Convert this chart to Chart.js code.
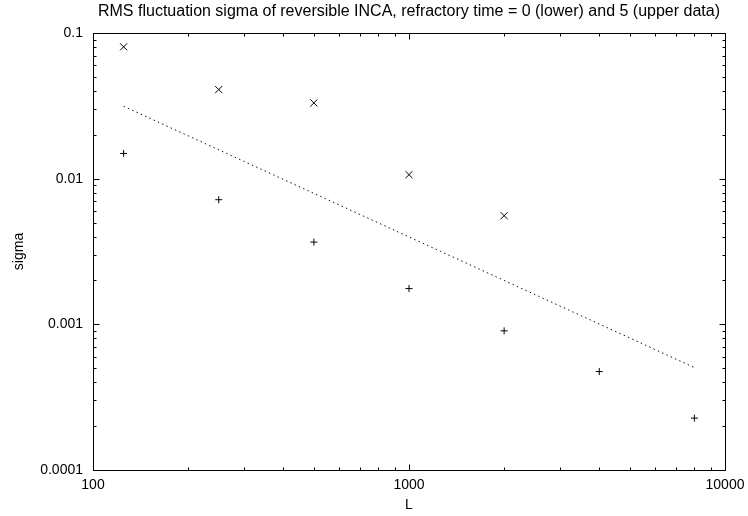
<!DOCTYPE html>
<html>
<head>
<meta charset="utf-8">
<script src="https://cdn.jsdelivr.net/npm/chart.js@4/dist/chart.umd.min.js"></script>
<style>
  html, body { margin: 0; padding: 0; background: #fff; }
  #c { display: block; }
</style>
</head>
<body>
<canvas id="c" width="748" height="516"></canvas>
<script>
// ---- data ----
const titleText = 'RMS fluctuation sigma of reversible INCA, refractory time = 0 (lower) and 5 (upper data)';
const upperL = [125, 250, 500, 1000, 2000];
const upperSigma = [0.0804, 0.0409, 0.0331, 0.01065, 0.00557];
const lowerL = [125, 250, 500, 1000, 2000, 4000, 8000];
const lowerSigma = [0.0149, 0.00717, 0.00367, 0.00176, 0.000902, 0.000474, 0.000227];
const fitL = [125, 8000];
const fitSigma = [0.0314, 0.000505];
const xTicks = [100, 1000, 10000];
const xTickLabels = ['100', '1000', '10000'];
const yTicks = [0.0001, 0.001, 0.01, 0.1];
const yTickLabels = ['0.0001', '0.001', '0.01', '0.1'];
const xTitle = 'L';
const yTitle = 'sigma';

const FONT = "'Liberation Sans', Arial, sans-serif";

function pts(xs, ys) { return xs.map((x, i) => ({ x: x, y: ys[i] })); }

const framePlugin = {
  id: 'frame',
  afterDraw(chart) {
    const ctx = chart.ctx;
    const a = chart.chartArea;
    const xs = chart.scales.x, ys = chart.scales.y;
    ctx.save();
    ctx.strokeStyle = '#000';
    ctx.lineWidth = 1;
    ctx.beginPath();
    ctx.rect(Math.round(a.left) + 0.5, Math.round(a.top) + 0.5,
             Math.round(a.right) - Math.round(a.left), Math.round(a.bottom) - Math.round(a.top));
    ctx.stroke();
    const L = Math.round(a.left) + 0.5, R = Math.round(a.right) + 0.5;
    const T = Math.round(a.top) + 0.5, B = Math.round(a.bottom) + 0.5;
    ctx.beginPath();
    for (let d = xTicks[0]; d <= xTicks[xTicks.length - 1]; d *= 10) {
      for (let k = 1; k <= 9; k++) {
        const v = k * d;
        if (v > xs.max) break;
        const len = k === 1 ? 6 : 3;
        const px = Math.round(xs.getPixelForValue(v)) + 0.5;
        ctx.moveTo(px, B); ctx.lineTo(px, B - len);
        ctx.moveTo(px, T); ctx.lineTo(px, T + len);
      }
    }
    for (let d = yTicks[0]; d <= yTicks[yTicks.length - 1] * 1.0001; d *= 10) {
      for (let k = 1; k <= 9; k++) {
        const v = k * d;
        if (v > ys.max * 1.0001) break;
        const len = k === 1 ? 6 : 3;
        const py = Math.round(ys.getPixelForValue(v)) + 0.5;
        ctx.moveTo(L, py); ctx.lineTo(L + len, py);
        ctx.moveTo(R, py); ctx.lineTo(R - len, py);
      }
    }
    ctx.stroke();
    ctx.fillStyle = '#000';
    ctx.font = '16px ' + FONT;
    ctx.textAlign = 'center';
    ctx.textBaseline = 'middle';
    ctx.fillText(titleText, (a.left + a.right) / 2, 12);
    ctx.restore();
  }
};

new Chart(document.getElementById('c'), {
  type: 'scatter',
  data: {
    datasets: [
      {
        label: 'upper',
        data: pts(upperL, upperSigma),
        pointStyle: 'crossRot',
        radius: 5,
        borderColor: '#000',
        backgroundColor: '#000',
        borderWidth: 1,
        showLine: false
      },
      {
        label: 'lower',
        data: pts(lowerL, lowerSigma),
        pointStyle: 'cross',
        radius: 3.5,
        borderColor: '#000',
        backgroundColor: '#000',
        borderWidth: 1,
        showLine: false
      },
      {
        label: 'fit',
        type: 'line',
        data: pts(fitL, fitSigma),
        borderColor: '#111',
        borderWidth: 1,
        borderDash: [1.5, 3.2],
        pointRadius: 0,
        fill: false,
        tension: 0
      }
    ]
  },
  options: {
    responsive: false,
    animation: false,
    devicePixelRatio: 1,
    layout: { padding: { top: 33, right: 23, left: 0, bottom: 0 } },
    plugins: {
      legend: { display: false },
      title: { display: false },
      tooltip: { enabled: false }
    },
    scales: {
      x: {
        type: 'logarithmic',
        min: 100, max: 10000,
        grid: { display: true, drawOnChartArea: false, drawTicks: false, color: 'rgba(0,0,0,0)' },
        border: { display: false },
        afterBuildTicks(scale) { scale.ticks = xTicks.map(v => ({ value: v })); },
        ticks: {
          autoSkip: false, maxRotation: 0, padding: 7,
          color: '#000', font: { family: FONT, size: 14 },
          callback(value) { const i = xTicks.indexOf(value); return i >= 0 ? xTickLabels[i] : ''; }
        },
        title: { display: true, text: xTitle, color: '#000', font: { family: FONT, size: 14 }, padding: { top: 0, bottom: 2 } },
        afterFit(scale) { scale.height = 46; scale.paddingRight = 0; scale.paddingLeft = 0; }
      },
      y: {
        type: 'logarithmic',
        min: 0.0001, max: 0.1,
        grid: { display: true, drawOnChartArea: false, drawTicks: false, color: 'rgba(0,0,0,0)' },
        border: { display: false },
        afterBuildTicks(scale) { scale.ticks = yTicks.map(v => ({ value: v })); },
        ticks: {
          autoSkip: false, padding: 10,
          color: '#000', font: { family: FONT, size: 14 },
          callback(value) {
            let idx = -1;
            yTicks.forEach((t, i) => { if (Math.abs(t - value) / t < 1e-6) idx = i; });
            return idx >= 0 ? yTickLabels[idx] : '';
          }
        },
        title: { display: true, text: yTitle, color: '#000', font: { family: FONT, size: 14 }, padding: { top: 11, bottom: 0 } },
        afterFit(scale) { scale.width = 93; scale.paddingTop = 0; scale.paddingBottom = 0; }
      }
    }
  },
  plugins: [framePlugin]
});
</script>
</body>
</html>
